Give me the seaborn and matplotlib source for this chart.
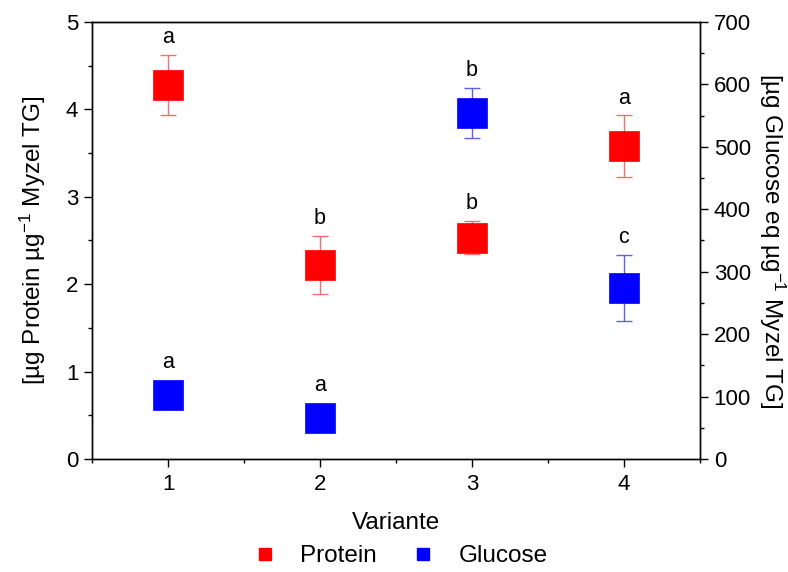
import numpy as np
import pandas as pd
import matplotlib
matplotlib.use("Agg")
import matplotlib.pyplot as plt
from matplotlib.lines import Line2D
from matplotlib.ticker import MultipleLocator
import seaborn as sns

# Measured values per variant
variants = [1, 2, 3, 4]
protein = [4.28, 2.22, 2.53, 3.58]
protein_err = [0.34, 0.33, 0.19, 0.35]
protein_letters = ["a", "b", "b", "a"]
glucose = [102, 66, 554, 274]
glucose_err = [12, 10, 40, 53]
glucose_letters = ["a", "a", "b", "c"]

df = pd.DataFrame({
    "Variante": variants,
    "Protein": protein,
    "Protein_err": protein_err,
    "Glucose": glucose,
    "Glucose_err": glucose_err,
})

sns.set_theme(style="white")
plt.rcParams["font.family"] = ["Liberation Sans", "DejaVu Sans"]
plt.rcParams["font.size"] = 15
plt.rcParams["mathtext.fontset"] = "custom"
plt.rcParams["mathtext.rm"] = "Liberation Sans"
plt.rcParams["mathtext.it"] = "Liberation Sans"
for key in ("text.color", "axes.labelcolor", "xtick.color", "ytick.color"):
    plt.rcParams[key] = "black"

RED = "#ff0000"
BLUE = "#0000ff"
MS = 21.5  # marker edge length in points
TICK_FS = 16
LABEL_FS = 17.5

fig = plt.figure(figsize=(7.88, 5.72), dpi=100)
ax = fig.add_axes([0.117, 0.1976, 0.771, 0.764])
ax2 = ax.twinx()

# Protein (left axis)
ax.errorbar(df["Variante"], df["Protein"], yerr=df["Protein_err"], fmt="none",
            ecolor="#f07070", elinewidth=1.0, capsize=6, capthick=1.0, zorder=2)
sns.scatterplot(data=df, x="Variante", y="Protein", ax=ax, marker="s", s=MS**2,
                color=RED, edgecolor=RED, linewidth=0.5, zorder=3, legend=False)

# Glucose (right axis)
ax2.errorbar(df["Variante"], df["Glucose"], yerr=df["Glucose_err"], fmt="none",
             ecolor="#6060e0", elinewidth=1.0, capsize=6, capthick=1.0, zorder=2)
sns.scatterplot(data=df, x="Variante", y="Glucose", ax=ax2, marker="s", s=MS**2,
                color=BLUE, edgecolor=BLUE, linewidth=0.5, zorder=3, legend=False)

# Significance letters above each mark
half = MS / 2
for x, y, e, t in zip(variants, protein, protein_err, protein_letters):
    ax.annotate(t, (x, y + e), xytext=(0, 5), textcoords="offset points",
                ha="center", va="bottom", fontsize=15.5)
for x, y, e, t in zip(variants, glucose, glucose_err, glucose_letters):
    top_pts = max(e * ax2.bbox.height / 700 * 72 / fig.dpi, half)
    ax2.annotate(t, (x, y), xytext=(0, top_pts + 5), textcoords="offset points",
                 ha="center", va="bottom", fontsize=15.5)

ax.set_xlim(0.5, 4.5)
ax.set_ylim(0, 5)
ax2.set_ylim(0, 700)
ax.set_xticks(variants)
ax.xaxis.set_minor_locator(MultipleLocator(0.5))
ax.yaxis.set_major_locator(MultipleLocator(1))
ax.yaxis.set_minor_locator(MultipleLocator(0.5))
ax2.yaxis.set_major_locator(MultipleLocator(100))
ax2.yaxis.set_minor_locator(MultipleLocator(50))

for a in (ax, ax2):
    for s in a.spines.values():
        s.set_color("black")
        s.set_linewidth(1.0)
    a.grid(False)

ax.tick_params(axis="x", which="major", direction="out", length=6, width=1,
               color="black", bottom=True, top=False, labelsize=TICK_FS, pad=5)
ax.tick_params(axis="x", which="minor", direction="out", length=3, width=1,
               color="black", bottom=True, top=False)
ax.tick_params(axis="y", which="major", direction="out", length=6, width=1,
               color="black", left=True, right=False, labelsize=TICK_FS, pad=4)
ax.tick_params(axis="y", which="minor", direction="out", length=3, width=1,
               color="black", left=True, right=False)
ax2.tick_params(axis="y", which="major", direction="out", length=6, width=1,
                color="black", right=True, left=False, labelsize=TICK_FS, pad=4)
ax2.tick_params(axis="y", which="minor", direction="out", length=3, width=1,
                color="black", right=True, left=False)

ax.set_xlabel("Variante", fontsize=LABEL_FS, labelpad=12)
ax.set_ylabel("[µg Protein µg$^{-1}$ Myzel TG]", fontsize=LABEL_FS, labelpad=13)
ax2.set_ylabel("[µg Glucose eq µg$^{-1}$ Myzel TG]", fontsize=LABEL_FS, rotation=270,
               labelpad=26)

handles = [
    Line2D([], [], marker="s", linestyle="none", color=RED, markersize=9, label="Protein"),
    Line2D([], [], marker="s", linestyle="none", color=BLUE, markersize=9, label="Glucose"),
]
fig.legend(handles=handles, loc="lower center", bbox_to_anchor=(0.5, -0.03), ncol=2,
           frameon=False, fontsize=LABEL_FS, handletextpad=0.45, columnspacing=0.9)

fig.savefig("out.png", dpi=100)
